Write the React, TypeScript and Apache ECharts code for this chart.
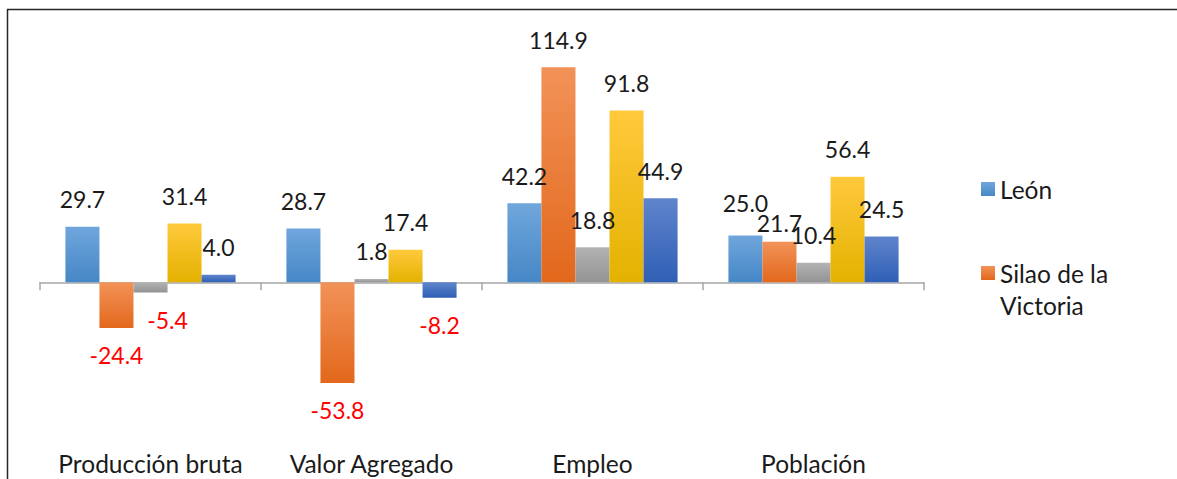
import React, { useEffect, useRef } from "react";
import * as echarts from "echarts";

const categories = ["Producción bruta", "Valor Agregado", "Empleo", "Población"];
const seriesNames = ["León", "Silao de la Victoria", "Serie 3", "Serie 4", "Serie 5"];
const leon = [29.7, 28.7, 42.2, 25.0];
const silao = [-24.4, -53.8, 114.9, 21.7];
const serie3 = [-5.4, 1.8, 18.8, 10.4];
const serie4 = [31.4, 17.4, 91.8, 56.4];
const serie5 = [4.0, -8.2, 44.9, 24.5];
const values = [leon, silao, serie3, serie4, serie5];

const colorStops: [string, string][] = [
  ["#6fa6dc", "#4687c6"],
  ["#f29258", "#e2681c"],
  ["#b3b3b3", "#939393"],
  ["#ffc93c", "#e3b200"],
  ["#5f84cc", "#2f5fb5"],
];

// label nudges (series index, category index) -> [dx, dy]
const labelNudges: Record<string, [number, number]> = {
  "2-0": [17, 0],
  "0-3": [0, -5],
  "1-3": [0, 9],
};

const FONT = "Lato, 'Noto Sans', sans-serif";

export default function App() {
  const ref = useRef<HTMLDivElement>(null);
  useEffect(() => {
    if (!ref.current) return;
    const chart = echarts.init(ref.current, undefined, { renderer: "svg" });
    const series = values.map((vals, si) => ({
      name: seriesNames[si],
      type: "bar",
      xAxisIndex: 0,
      barGap: "0%",
      barCategoryGap: "23%",
      itemStyle: {
        color: new echarts.graphic.LinearGradient(0, 0, 0, 1, [
          { offset: 0, color: colorStops[si][0] },
          { offset: 1, color: colorStops[si][1] },
        ]),
      },
      label: {
        show: true,
        position: "outside",
        distance: 16,
        fontFamily: FONT,
        fontSize: 23,
        color: "#1a1a1a",
        formatter: (p: any) => Number(p.value).toFixed(1),
      },
      data: vals.map((v, ci) => {
        const nudge = labelNudges[`${si}-${ci}`] || [0, 0];
        return {
          value: v,
          label: {
            color: v < 0 ? "#ff0000" : "#1a1a1a",
            distance: 16,
            offset: nudge,
          },
        };
      }),
    }));
    chart.setOption({
      animation: false,
      backgroundColor: "#ffffff",
      grid: { left: 40, right: 253, top: 11, bottom: 47, outerBoundsMode: "none", containLabel: false },
      legend: {
        orient: "vertical",
        left: 981,
        top: 173,
        padding: 0,
        itemWidth: 14,
        itemHeight: 14,
        itemGap: 20,
        icon: "rect",
        selectedMode: false,
        textStyle: { fontFamily: FONT, fontSize: 24.5, color: "#1a1a1a", lineHeight: 32 },
        formatter: (name: string) =>
          name === "Silao de la Victoria" ? " \nSilao de la\nVictoria" : name,
        data: ["León", "Silao de la Victoria"],
      },
      xAxis: [
        {
          type: "category",
          data: categories,
          axisLine: { onZero: true, lineStyle: { color: "#a6a6a6", width: 1.5 } },
          axisTick: { show: true, length: 8, lineStyle: { color: "#a6a6a6", width: 1.5 } },
          axisLabel: { show: false },
        },
        {
          type: "category",
          data: categories,
          position: "bottom",
          axisLine: { show: false, onZero: false },
          axisTick: { show: false },
          axisLabel: {
            margin: 19,
            fontFamily: FONT,
            fontSize: 24.5,
            color: "#1a1a1a",
            interval: 0,
          },
        },
      ],
      yAxis: {
        type: "value",
        min: -80,
        max: 145,
        show: false,
        splitLine: { show: false },
      },
      graphic: [
        {
          type: "rect",
          shape: { x: 7.5, y: 9.5, width: 1300, height: 600 },
          style: { fill: "none", stroke: "#262626", lineWidth: 1.5 },
          silent: true,
        },
      ],
      series,
    });
    return () => chart.dispose();
  }, []);
  return (
    <div
      ref={ref}
      style={{ position: "absolute", left: 0, top: 0, width: 1177, height: 479 }}
    />
  );
}
